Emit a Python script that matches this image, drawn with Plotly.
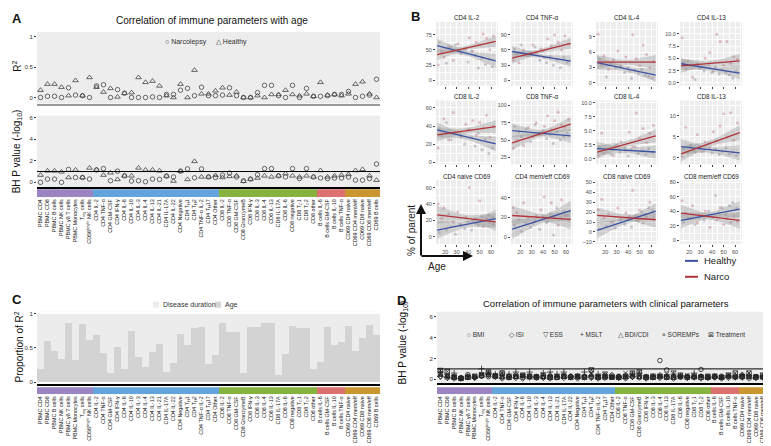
import numpy as np
import plotly.graph_objects as go

W, H = 771, 446
FONT = "Liberation Sans, Arial, sans-serif"

def fx(px):
    return px / W

def fy(py):
    return 1 - py / H

# ---------------- data ----------------
categories = [
    "PBMC CD4", "PBMC CD8", "PBMC B cells", "PBMC NK cells", "PBMC γδ T cells", "PBMC Monocytes",
    "T<sub>reg</sub> cells", "CD56<sup>bright</sup> NK cells",
    "CD4 IL-2", "CD4 TNF-α", "CD4 GM-CSF", "CD4 IFN-γ", "CD4 IL-6", "CD4 IL-10", "CD4 IL-3", "CD4 IL-4",
    "CD4 IL-13", "CD4 IL-21", "CD4 IL-17A", "CD4 IL-22", "CD4 Negative", "CD4 T<sub>H</sub>1",
    "CD4 T<sub>H</sub>2", "CD4 TNF-α IL-2", "CD4 T<sub>H</sub>17", "CD4 Other",
    "CD8 IL-2", "CD8 TNF-α", "CD8 GM-CSF", "CD8 GranzymeB", "CD8 IFN-γ", "CD8 IL-3", "CD8 IL-4",
    "CD8 IL-13", "CD8 IL-17A", "CD8 IL-6", "CD8 negative", "CD8 T<sub>C</sub>1", "CD8 T<sub>C</sub>2",
    "CD8 other",
    "B cells IL-6", "B cells GM-CSF", "B cells IL-10", "B cells TNF-α",
    "CD69 CD4 naive", "CD69 CD4 mem/eff", "CD69 CD8 naive", "CD69 CD8 mem/eff", "CD69 B cells",
]
group_counts = [8, 18, 14, 4, 5]
group_colors = ["#9a84c2", "#63a4dc", "#86b23e", "#dc6f70", "#c99630"]

r2_narco = [0.0, 0.02, 0.02, 0.0, 0.16, 0.04, 0.03, 0.0,
            0.19, 0.21, 0.0, 0.13, 0.07, 0.0, 0.0, 0.0, 0.01, 0.0, 0.05, 0.05, 0.12, 0.15, 0.03, 0.17, 0.03, 0.03,
            0.04, 0.16, 0.03, 0.0, 0.0, 0.08, 0.2, 0.2, 0.03, 0.0, 0.2, 0.0, 0.15, 0.02,
            0.02, 0.03, 0.05, 0.05,
            0.1, 0.0, 0.02, 0.04, 0.3]
r2_healthy = [0.12, 0.22, 0.22, 0.17, 0.03, 0.28, 0.03, 0.33,
              0.17, 0.09, 0.15, 0.01, 0.07, 0.08, 0.33, 0.25, 0.27, 0.19, 0.03, 0.0, 0.22, 0.0, 0.45, 0.06, 0.06, 0.11,
              0.16, 0.04, 0.09, 0.0, 0.0, 0.03, 0.0, 0.05, 0.05, 0.12, 0.05, 0.03, 0.06, 0.02,
              0.25, 0.04, 0.05, 0.03,
              0.06, 0.22, 0.26, 0.06, 0.0]
p_narco = [0.0, 0.3, 0.3, 0.0, 1.2, 0.45, 0.45, 0.3,
           1.15, 1.27, 0.15, 1.03, 0.6, 0.12, 0.15, 0.06, 0.3, 0.27, 0.58, 0.5, 1.03, 1.24, 0.42, 1.24, 0.5, 0.45,
           0.67, 0.85, 0.5, 0.15, 0.3, 0.7, 1.27, 1.27, 0.6, 0.5, 1.27, 0.35, 1.27, 0.5,
           0.4, 0.35, 0.4, 0.4,
           0.5, 0.2, 0.2, 0.35, 1.7]
p_healthy = [0.67, 1.06, 1.06, 0.97, 0.45, 1.15, 0.45, 1.33,
             1.15, 0.67, 0.88, 0.27, 0.6, 0.6, 1.33, 1.15, 1.15, 1.06, 0.58, 0.12, 1.03, 0.27, 1.94, 0.5, 0.5, 0.64,
             0.45, 0.55, 0.6, 0.1, 0.3, 0.4, 0.6, 0.5, 0.6, 0.8, 0.6, 0.5, 0.6, 0.5,
             1.1, 0.5, 0.6, 0.67,
             0.73, 1.1, 1.2, 0.6, 0.2]

age_prop = [0.19, 0.6, 0.45, 0.34, 0.87, 0.32, 0.85, 0.61,
            0.69, 0.43, 0.13, 0.52, 0.19, 0.75, 0.37, 0.22, 0.44, 0.56, 0.15, 0.28, 0.71, 0.54, 0.79, 0.81, 0.26, 0.40,
            0.86, 0.74, 0.73, 0.14, 0.80, 0.81, 0.87, 0.86, 0.11, 0.41, 0.82, 0.79, 0.79, 0.2,
            0.29, 0.81, 0.55, 0.58,
            0.82, 0.46, 0.64, 0.84, 0.69]

d_bmi = [0.55, 0.3, 0.2, 0.15, 0.45, 0.2, 0.3, 0.25, 0.35, 0.2, 0.3, 0.25, 0.2, 0.3, 0.15, 0.2, 0.25, 0.2, 0.3, 0.25,
         0.2, 0.3, 0.25, 0.2, 0.15, 0.2, 0.3, 0.2, 0.25, 0.15, 0.2, 0.2, 1.8, 0.9, 0.25, 0.2, 0.3, 0.2, 0.95, 0.25,
         0.2, 0.3, 0.25, 0.2, 0.2, 0.3, 0.25, 0.2, 0.45]
d_isi = [0.3, 0.15, 0.1, 0.1, 0.2, 0.15, 0.35, 0.5, 0.3, 0.1, 0.2, 0.15, 0.1, 0.2, 0.25, 0.15, 0.1, 0.2, 0.15, 0.3,
         0.1, 0.2, 0.15, 0.1, 0.2, 0.4, 0.15, 0.1, 0.25, 0.3, 0.1, 0.2, 0.15, 0.2, 0.1, 0.3, 0.15, 0.2, 0.1, 0.15,
         0.2, 0.1, 0.15, 0.3, 0.2, 0.1, 0.15, 0.2, 0.35]
d_ess = [0.2, 0.4, 0.3, 0.1, 0.3, 0.2, 0.5, 0.35, 0.2, 0.3, 0.15, 0.25, 0.4, 0.2, 0.3, 0.25, 0.2, 0.15, 0.3, 0.2,
         0.35, 0.25, 0.2, 0.3, 0.6, 0.2, 0.15, 0.3, 0.2, 0.25, 0.3, 0.4, 0.2, 0.35, 0.7, 0.3, 0.25, 0.2, 0.3, 0.4,
         0.2, 0.25, 0.3, 0.2, 0.35, 0.2, 0.3, 0.25, 0.2]
d_mslt = [0.7, 0.2, 0.6, 0.1, 0.3, 0.2, 1.0, 0.6, 0.5, 0.6, 0.5, 0.7, 0.3, 0.7, 0.2, 0.6, 0.7, 0.5, 0.7, 0.2,
          0.3, 0.7, 0.3, 0.5, 0.4, 0.3, 0.2, 0.3, 0.5, 0.6, 0.2, 0.3, 0.4, 0.3, 0.5, 0.3, 0.2, 0.6, 0.3, 0.2,
          0.3, 0.2, 0.3, 0.2, 0.3, 0.4, 0.2, 0.3, 0.3]
d_bdi = [0.4, 0.3, 0.2, 0.1, 0.2, 0.2, 0.3, 0.4, 0.3, 0.2, 0.3, 0.2, 0.35, 0.2, 0.3, 0.2, 0.45, 0.3, 0.2, 0.3,
         0.2, 0.3, 0.45, 0.2, 0.3, 0.2, 0.3, 0.2, 0.3, 0.2, 0.3, 0.2, 0.3, 0.2, 0.3, 0.2, 0.3, 0.2, 0.3, 0.2,
         0.3, 0.2, 0.3, 0.2, 0.5, 0.2, 0.3, 0.2, 0.4]
d_sorem = [0.5, 0.2, 0.3, 0.1, 0.2, 0.3, 0.5, 0.6, 0.4, 0.3, 0.2, 0.4, 0.3, 0.2, 0.3, 0.5, 0.2, 0.3, 0.4, 0.2,
           0.3, 0.2, 0.6, 0.3, 0.2, 0.3, 0.2, 0.6, 0.4, 0.3, 0.2, 0.2, 0.3, 0.5, 0.2, 0.3, 0.4, 0.2, 0.3, 0.2,
           0.3, 0.2, 0.4, 0.2, 0.3, 0.2, 0.3, 0.2, 0.6]
d_treat = [0.85, 0.75, 0.2, 0.1, 0.2, 0.3, 0.4, 0.7, 0.3, 0.6, 0.2, 0.3, 0.4, 0.3, 0.2, 0.3, 0.2, 0.2, 0.3, 0.2,
           0.3, 0.2, 0.9, 0.2, 0.3, 0.2, 0.2, 0.3, 0.6, 0.7, 0.2, 0.2, 0.3, 0.2, 0.2, 0.4, 0.2, 0.3, 0.2, 0.2,
           0.3, 0.2, 0.4, 0.6, 0.3, 0.6, 0.2, 0.4, 0.6]
d_series = [("BMI", d_bmi, "circle-open"), ("ISI", d_isi, "diamond-open"), ("ESS", d_ess, "triangle-down-open"),
            ("MSLT", d_mslt, "cross-thin-open"), ("BDI/CDI", d_bdi, "triangle-up-open"),
            ("SOREMPs", d_sorem, "x-thin-open"), ("Treatment", d_treat, "square-x-open")]

# Panel B
b_titles = ["CD4 IL-2", "CD4 TNF-α", "CD4 IL-4", "CD4 IL-13",
            "CD8 IL-2", "CD8 TNF-α", "CD8 IL-4", "CD8 IL-13",
            "CD4 naive CD69", "CD4 mem/eff CD69", "CD8 naive CD69", "CD8 mem/eff CD69"]
age_narco = [14, 17, 19, 23, 27, 31, 34, 38, 41, 44, 47, 50, 53, 56, 59, 62]
age_healthy = [15, 21, 25, 29, 33, 37, 40, 43, 46, 49, 52, 55, 58, 61]
b_narco_pts = [
    [25, 47, 38, 55, 33, 60, 44, 52, 70, 48, 62, 58, 76, 69, 50, 73],
    [40, 52, 35, 60, 48, 70, 55, 62, 45, 82, 68, 90, 75, 60, 88, 72],
    [9.5, 3.5, 5.2, 2.6, 4.4, 6.2, 3.1, 5.0, 2.2, 9.4, 4.7, 3.3, 7.4, 5.5, 2.9, 4.2],
    [9.2, 2.8, 4.5, 1.2, 3.9, 3.1, 5.0, 6.2, 2.4, 9.9, 8.4, 3.6, 8.4, 4.0, 5.3, 4.8],
    [16, 30, 48, 25, 55, 34, 28, 42, 36, 46, 30, 44, 38, 52, 28, 40],
    [38, 50, 62, 42, 68, 55, 75, 60, 70, 85, 65, 78, 90, 72, 68, 80],
    [0.5, 4.6, 1.0, 1.8, 0.6, 2.5, 3.0, 1.4, 4.8, 2.2, 8.2, 3.6, 5.4, 2.9, 4.5, 6.0],
    [0.3, 7.3, 1.2, 2.0, 5.5, 1.5, 3.8, 2.5, 6.2, 4.0, 7.6, 10.5, 5.0, 10.7, 4.2, 8.3],
    [40, 22, 35, 28, 18, 30, 14, 24, 60, 20, 16, 44, 12, 22, 18, 15],
    [30, 25, 18, 35, 20, 14, 22, 28, 41, 16, 35, 20, 12, 38, 22, 17],
    [22, 33, 14, 18, 10, 24, 13, 19, 16, 42, 12, 22, 9, 15, 30, 14],
    [55, 38, 30, 48, 24, 35, 40, 18, 32, 28, 45, 22, 30, 25, 33, 26],
]
b_healthy_pts = [
    [62, 28, 55, 58, 46, 52, 30, 48, 41, 20, 37, 26, 35, 22],
    [62, 70, 50, 55, 66, 40, 58, 35, 48, 30, 42, 25, 45, 36],
    [4.6, 1.1, 3.8, 2.9, 3.3, 2.0, 3.0, 0.8, 2.4, 1.8, 2.6, 1.5, 1.2, 0.9],
    [4.2, 3.5, 0.7, 3.0, 2.5, 3.8, 2.1, 3.3, 1.8, 2.7, 2.2, 1.6, 1.0, 2.4],
    [38, 44, 25, 33, 30, 20, 36, 28, 18, 32, 14, 26, 10, 16],
    [70, 55, 66, 48, 72, 60, 64, 52, 58, 45, 62, 50, 55, 60],
    [2.0, 1.5, 0.8, 2.4, 1.2, 1.9, 0.5, 1.6, 2.1, 1.0, 1.4, 0.7, 1.8, 1.1],
    [2.2, 3.0, 1.4, 2.6, 1.8, 3.5, 1.2, 2.1, 0.8, 1.6, 2.4, 0.9, 1.3, 0.6],
    [5, 8, 12, 3, 15, 10, 18, 8, 22, 14, 25, 19, 26, 24],
    [12, 6, 14, 10, 16, 8, 22, 15, 24, 2, 30, 20, 26, 22],
    [3, 6, 10, 4, 12, 8, 14, 5, 16, 11, 20, 18, 24, 22],
    [25, 30, 22, 34, 28, 40, 32, 62, 38, 45, 36, 48, 52, 44],
]
fit_ages = [13, 64]
fit_narco = [[42, 64], [44, 73], [4.0, 4.0], [3.45, 4.5], [30.4, 39.5], [46, 73],
             [1.2, 4.1], [0.95, 6.0], [26.7, 18], [22, 18], [16.7, 12.3], [37.7, 27.5]]
fit_healthy = [[57, 32], [57, 38], [3.9, 1.45], [3.9, 2.0], [35.8, 20.4], [63.6, 56],
               [1.8, 1.2], [2.7, 1.2], [8, 22], [8, 27], [1.7, 21], [27.5, 43]]
band_narco = [[3.5, 9], [4, 11], [0.5, 1.4], [0.5, 1.4], [3, 7], [4, 10],
              [0.5, 1.2], [0.7, 1.8], [4, 11], [3.5, 10], [3, 8], [4, 11]]
band_healthy = [[4, 11], [4, 11], [0.5, 1.3], [0.5, 1.2], [3, 8], [4, 10],
                [0.5, 1.2], [0.7, 1.8], [4, 11], [3.5, 10], [3, 8], [4, 11]]
b_yranges = [[-9, 96], [-10, 115], [-0.6, 11.9], [-0.55, 12.4], [-2, 68], [15, 107],
             [-1, 10.4], [-1.5, 13.6], [-9, 69], [-7, 58], [-12, 52], [-5, 83]]
b_ydtick = [25, 30, 3, 2.5, 20, 25, 2.5, 5, 20, 20, 10, 20]
b_yfmt = ["", "", "", ".1f", "", "", ".1f", "", "", "", "", ""]

# ---------------- figure ----------------
idx = list(range(len(categories)))
cat_colors = []
for c, n in zip(group_colors, group_counts):
    cat_colors += [c] * n

fig = go.Figure()
layout = {}
traces = []

def ax_names(n):
    return ("xaxis" if n == 1 else f"xaxis{n}", "yaxis" if n == 1 else f"yaxis{n}",
            "x" if n == 1 else f"x{n}", "y" if n == 1 else f"y{n}")

def add_axes(n, xdom, ydom, xkw, ykw):
    xa, ya, xr, yr = ax_names(n)
    layout[xa] = dict(domain=xdom, anchor=yr, **xkw)
    layout[ya] = dict(domain=ydom, anchor=xr, **ykw)
    return xr, yr

tickf = dict(family=FONT, size=6, color="#333")
cat_x = dict(range=[-0.5, 48.5], showticklabels=False, ticks="", showgrid=False, zeroline=False)

# A top (1)
add_axes(1, [fx(29), fx(372)], [fy(95), fy(23)],
         dict(cat_x, showline=True, linecolor="#9a9a9a", linewidth=2),
         dict(range=[-0.1, 1.08], tickvals=[0, 0.5, 1], ticktext=["0", "0.5", "1"], ticks="outside",
              ticklen=2, tickcolor="#333", tickfont=tickf, showgrid=False, zeroline=False))
# A bottom (2)
add_axes(2, [fx(29), fx(372)], [fy(179), fy(107)],
         dict(cat_x, showline=True, linecolor="black", linewidth=1.5),
         dict(range=[-0.45, 6.18], tickvals=[0, 2, 4, 6], ticks="outside", ticklen=2, tickcolor="#333",
              tickfont=tickf, showgrid=False, zeroline=False))
strip_x = dict(range=[-0.5, 48.5], tickvals=idx, ticktext=categories, tickangle=-90, ticks="",
               tickfont=dict(family=FONT, size=5.4, color="#222"), showgrid=False, zeroline=False)
strip_y = dict(range=[0, 1], visible=False)
# A strip (3)
add_axes(3, [fx(29), fx(372)], [fy(189), fy(181)], strip_x, strip_y)
# C (4)
add_axes(4, [fx(29), fx(372)], [fy(377), fy(304)],
         dict(cat_x, showline=True, linecolor="black", linewidth=1.5),
         dict(range=[-0.03, 1.03], tickvals=[0, 0.5, 1], ticktext=["0", "0.5", "1"], ticks="outside",
              ticklen=2, tickcolor="#333", tickfont=tickf, showgrid=False, zeroline=False))
# C strip (5)
add_axes(5, [fx(29), fx(372)], [fy(387), fy(380)], strip_x, strip_y)
# D (6)
add_axes(6, [fx(429), fx(765)], [fy(376), fy(304)],
         dict(cat_x, showline=True, linecolor="black", linewidth=1.5),
         dict(range=[-0.38, 6.48], tickvals=[0, 2, 4, 6], ticks="outside", ticklen=2, tickcolor="#333",
              tickfont=tickf, showgrid=False, zeroline=False))
# D strip (7)
add_axes(7, [fx(429), fx(765)], [fy(387), fy(380)], strip_x, strip_y)

# A traces
traces.append(go.Scatter(x=idx, y=r2_narco, mode="markers", xaxis="x", yaxis="y",
                         marker=dict(symbol="circle-open", size=4.5, color="#444", line=dict(width=0.8))))
traces.append(go.Scatter(x=idx, y=r2_healthy, mode="markers", xaxis="x", yaxis="y",
                         marker=dict(symbol="triangle-up-open", size=5, color="#444", line=dict(width=0.8))))
traces.append(go.Scatter(x=idx, y=p_narco, mode="markers", xaxis="x2", yaxis="y2",
                         marker=dict(symbol="circle-open", size=4.5, color="#444", line=dict(width=0.8))))
traces.append(go.Scatter(x=idx, y=p_healthy, mode="markers", xaxis="x2", yaxis="y2",
                         marker=dict(symbol="triangle-up-open", size=5, color="#444", line=dict(width=0.8))))
for ax in ["3", "5", "7"]:
    traces.append(go.Bar(x=idx, y=[1] * len(idx), width=1, xaxis="x" + ax, yaxis="y" + ax,
                         marker=dict(color=cat_colors, line=dict(width=0))))
# C
traces.append(go.Bar(x=idx, y=age_prop, width=0.9, xaxis="x4", yaxis="y4",
                     marker=dict(color="#d3d3d3", line=dict(width=0))))
traces.append(go.Bar(x=idx, y=[1 - v for v in age_prop], width=0.9, xaxis="x4", yaxis="y4",
                     marker=dict(color="#ececec", line=dict(width=0))))
# D
for name, vals, sym in d_series:
    traces.append(go.Scatter(x=idx, y=vals, mode="markers", xaxis="x6", yaxis="y6",
                             marker=dict(symbol=sym, size=4.5, color="#222", line=dict(width=0.8))))

# B panels
col_left = [428, 503, 588, 672]
row_top = [13, 92, 172]
PW, PH = 62, 64
annotations = []
shapes = []
blue, red = "#3b52a3", "#b2333a"
for k in range(12):
    r, c = divmod(k, 4)
    n = 8 + k
    x0, y0 = col_left[c], row_top[r]
    xr, yr = add_axes(
        n, [fx(x0), fx(x0 + PW)], [fy(y0 + PH), fy(y0)],
        dict(range=[12, 66], tick0=20, dtick=10, ticks="outside", ticklen=2, tickcolor="#444",
             showticklabels=(r == 2), tickfont=dict(family=FONT, size=5.5, color="#4d4d4d"),
             showgrid=True, gridcolor="white", gridwidth=0.8, zeroline=False,
             minor=dict(dtick=5, showgrid=True, gridcolor="white", gridwidth=0.4)),
        dict(range=b_yranges[k], tick0=0, dtick=b_ydtick[k], tickformat=b_yfmt[k], ticks="outside",
             ticklen=2, tickcolor="#444", tickfont=dict(family=FONT, size=5.5, color="#4d4d4d"),
             showgrid=True, gridcolor="white", gridwidth=0.8, zeroline=False,
             minor=dict(dtick=b_ydtick[k] / 2, showgrid=True, gridcolor="white", gridwidth=0.4)))
    traces.append(go.Scatter(x=age_narco, y=b_narco_pts[k], mode="markers", xaxis=xr, yaxis=yr,
                             marker=dict(size=3, color="rgba(200,120,130,0.45)")))
    traces.append(go.Scatter(x=age_healthy, y=b_healthy_pts[k], mode="markers", xaxis=xr, yaxis=yr,
                             marker=dict(size=3, color="rgba(140,140,165,0.45)")))
    for fit, band, col in [(fit_healthy[k], band_healthy[k], blue), (fit_narco[k], band_narco[k], red)]:
        xs = np.linspace(fit_ages[0], fit_ages[1], 25)
        ys = fit[0] + (fit[1] - fit[0]) * (xs - fit_ages[0]) / (fit_ages[1] - fit_ages[0])
        xm = (fit_ages[0] + fit_ages[1]) / 2
        half = (fit_ages[1] - fit_ages[0]) / 2
        hw = np.sqrt(band[0] ** 2 + (band[1] ** 2 - band[0] ** 2) * ((xs - xm) / half) ** 2)
        traces.append(go.Scatter(x=np.concatenate([xs, xs[::-1]]), y=np.concatenate([ys + hw, (ys - hw)[::-1]]),
                                 fill="toself", fillcolor="rgba(150,150,150,0.38)", line=dict(width=0),
                                 mode="lines", xaxis=xr, yaxis=yr, hoverinfo="skip"))
    for fit, col in [(fit_healthy[k], blue), (fit_narco[k], red)]:
        traces.append(go.Scatter(x=fit_ages, y=fit, mode="lines", xaxis=xr, yaxis=yr,
                                 line=dict(color=col, width=1.3)))
    annotations.append(dict(x=fx(x0 + PW / 2), y=fy(y0 - 4), xref="paper", yref="paper", text=b_titles[k],
                            xanchor="center", yanchor="middle",
                            showarrow=False, font=dict(family=FONT, size=6.3, color="#222")))

for t in traces:
    t.showlegend = False
    fig.add_trace(t)

def txt(x, y, s, size, anchor="center", angle=0, bold=False, color="#111"):
    annotations.append(dict(x=fx(x), y=fy(y), xref="paper", yref="paper", text=(f"<b>{s}</b>" if bold else s),
                            showarrow=False, xanchor=anchor, yanchor="middle", textangle=angle,
                            font=dict(family=FONT, size=size, color=color)))

# Panel letters and titles
txt(2, 10, "A", 13, "left", bold=True)
txt(401, 8, "B", 13, "left", bold=True)
txt(2, 292, "C", 13, "left", bold=True)
txt(387, 293, "D", 13, "left", bold=True)
txt(204, 12, "Correlation of immune parameters with age", 10)
txt(598, 296, "Correlation of immune parameters with clinical parameters", 9.5)
txt(155, 33, "○ Narcolepsy     △ Healthy", 7, "left", color="#333")
txt(9, 58, "R<sup>2</sup>", 10, angle=-90)
txt(9, 143, "BH P value (-log<sub>10</sub>)", 10, angle=-90)
txt(11, 340, "Proportion of R<sup>2</sup>", 10, angle=-90)
txt(395, 335, "BH P value (-log<sub>10</sub>)", 10, angle=-90)

# D legend
for lbl, xp in [("○ BMI", 457), ("◇ ISI", 499), ("▽ ESS", 533), ("+ MSLT", 570), ("△ BDI/CDI", 608),
                ("× SOREMPs", 652), ("⊠ Treatment", 698)]:
    txt(xp, 327, lbl, 6.5, "left", color="#333")

# C legend
shapes.append(dict(type="rect", xref="paper", yref="paper", x0=fx(145), x1=fx(151), y0=fy(300), y1=fy(294),
                   fillcolor="#ececec", line=dict(width=0)))
shapes.append(dict(type="rect", xref="paper", yref="paper", x0=fx(207), x1=fx(213), y0=fy(300), y1=fy(294),
                   fillcolor="#d3d3d3", line=dict(width=0)))
txt(153, 297, "Disease duration", 7, "left", color="#333")
txt(215, 297, "Age", 7, "left", color="#333")

# B legend
shapes.append(dict(type="line", xref="paper", yref="paper", x0=fx(677), x1=fx(690), y0=fy(253), y1=fy(253),
                   line=dict(color=blue, width=2)))
shapes.append(dict(type="line", xref="paper", yref="paper", x0=fx(677), x1=fx(690), y0=fy(269), y1=fy(269),
                   line=dict(color=red, width=2)))
txt(694, 253, "Healthy", 9.5, "left", color="#222")
txt(694, 269, "Narco", 9.5, "left", color="#222")

# B axis cartoon
annotations.append(dict(x=fx(413), y=fy(196), xref="paper", yref="paper", ax=0, ay=53, text="",
                        showarrow=True, arrowhead=2, arrowsize=1, arrowwidth=2, arrowcolor="#111"))
annotations.append(dict(x=fx(465), y=fy(248), xref="paper", yref="paper", ax=-53, ay=0, text="",
                        showarrow=True, arrowhead=2, arrowsize=1, arrowwidth=2, arrowcolor="#111"))
txt(403, 223, "% of parent", 10, angle=-90, color="#222")
txt(418, 259, "Age", 10, "left", color="#222")

# reference lines & backgrounds
shapes.append(dict(type="line", xref="x2 domain", yref="y2", x0=0, x1=1, y0=1, y1=1,
                   line=dict(color="black", width=1)))
shapes.append(dict(type="line", xref="x6 domain", yref="y6", x0=0, x1=1, y0=1, y1=1,
                   line=dict(color="black", width=1)))
shapes.append(dict(type="rect", xref="x4 domain", yref="y4 domain", x0=0, x1=1, y0=0, y1=1,
                   fillcolor="white", line=dict(width=0), layer="below"))

fig.update_layout(width=W, height=H, autosize=False, margin=dict(l=0, r=0, t=0, b=0),
                  paper_bgcolor="white", plot_bgcolor="#ededed", barmode="stack", showlegend=False,
                  font=dict(family=FONT), annotations=annotations, shapes=shapes, **layout)
fig.write_html("out.html")
